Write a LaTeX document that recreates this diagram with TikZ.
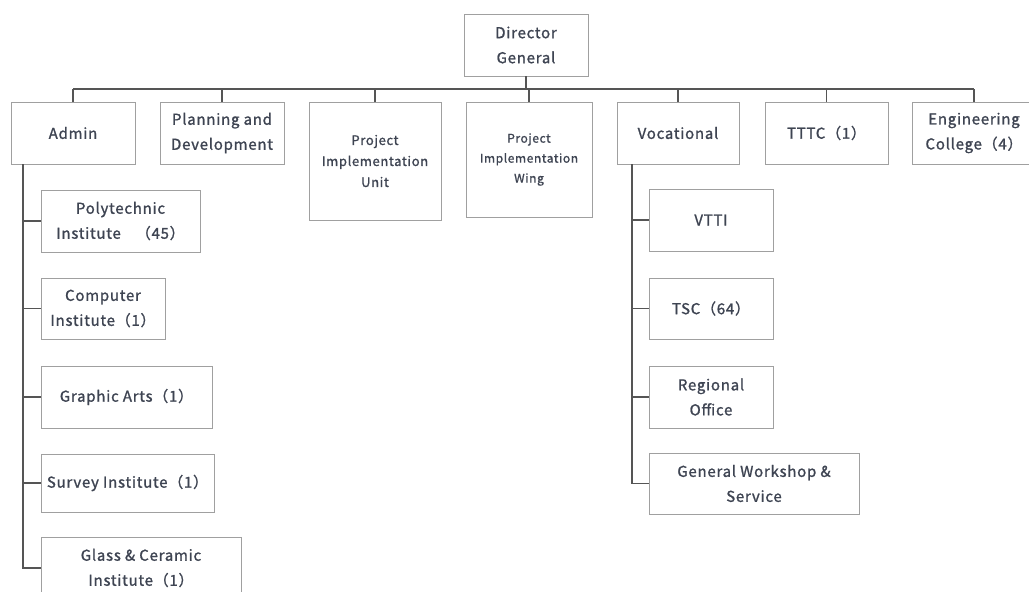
\documentclass[tikz,border=0pt]{standalone}
\usepackage{fontspec}
\newfontfamily\jpf[LetterSpace=5,FakeBold=1.2]{Noto Sans CJK JP}
\definecolor{txt}{HTML}{3E4452}
\definecolor{bord}{HTML}{A0A0A0}
\definecolor{lin}{HTML}{555555}
\tikzset{
  box/.style={draw=bord, line width=0.9pt, fill=white, inner sep=0pt, align=center, text=txt, font=\jpf\fontsize{15}{25}\selectfont},
  conn/.style={draw=lin, line width=1.1pt}
}
\newcommand{\bx}[7][]{\node[box,#1,minimum width={(#5-#3)*1pt},minimum height={(#6-#4)*1pt}] (#2) at ({(#3+#5)/2},{(#4+#6)/2}) {#7};}
\begin{document}
\begin{tikzpicture}[x=1pt,y=-1pt]
\useasboundingbox (0,0) rectangle (1029,592);
\clip (0,0) rectangle (1029,592);
\fill[white] (0,0) rectangle (1029,592);
% top
\bx{dg}{464}{14}{588}{76}{Director\\General}
% level 2
\bx{admin}{11}{102}{135}{164}{Admin}
\bx{plan}{160}{102}{284}{164}{Planning and\\Development}
\bx[font=\jpf\fontsize{13}{21}\selectfont]{piu}{309}{102}{441}{220}{Project\\Implementation\\Unit}
\bx[font=\jpf\fontsize{12}{20}\selectfont]{piw}{466}{102}{592}{217}{Project\\Implementation\\Wing}
\bx{voc}{617}{102}{739}{164}{Vocational}
\bx{tttc}{765}{102}{888}{164}{TTTC（1）}
\bx{eng}{912}{102}{1036}{164}{Engineering\\College（4）}
% admin children
\bx{poly}{41}{190}{200}{252}{Polytechnic\\Institute\quad（45）}
\bx{comp}{41}{278}{165}{339}{Computer\\Institute（1）}
\bx{graph}{41}{366}{212}{428}{Graphic Arts（1）}
\bx{surv}{41}{454}{214}{512}{Survey Institute（1）}
\bx{glass}{41}{537}{241}{599}{Glass \& Ceramic\\Institute（1）}
% vocational children
\bx{vtti}{649}{189}{773}{251}{VTTI}
\bx{tsc}{649}{278}{773}{339}{TSC（64）}
\bx{reg}{649}{366}{773}{428}{Regional\\Office}
\bx{gws}{649}{453}{859}{514}{General Workshop \&\\Service}
% bus
\coordinate (bus) at (0,89);
\draw[conn] (dg.south) -- (dg.south |- bus);
\draw[conn] (admin.north |- bus) -- (eng.north |- bus);
\foreach \n in {admin,plan,piu,piw,voc,tttc,eng}
  \draw[conn] (\n.north) -- (\n.north |- bus);
% admin spine
\coordinate (aspine) at (23,164);
\draw[conn] (aspine) |- (glass.west);
\foreach \n in {poly,comp,graph,surv}
  \draw[conn] (\n.west) -- (\n.west -| aspine);
% vocational spine
\coordinate (vspine) at (632,164);
\draw[conn] (vspine) |- (gws.west);
\foreach \n in {vtti,tsc,reg}
  \draw[conn] (\n.west) -- (\n.west -| vspine);
\end{tikzpicture}
\end{document}
